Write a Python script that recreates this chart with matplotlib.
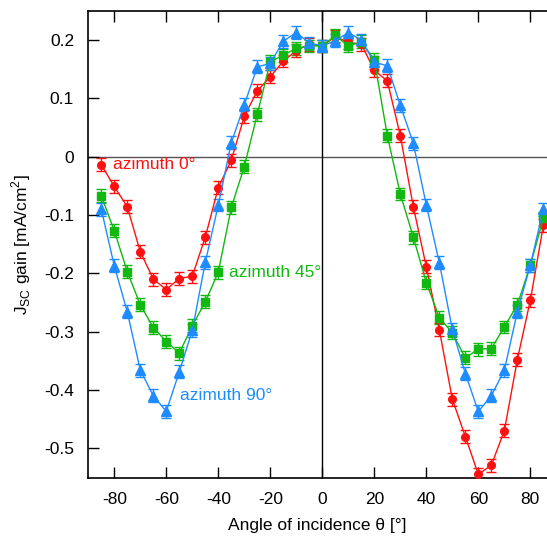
import matplotlib
matplotlib.use("Agg")
import matplotlib.pyplot as plt
import numpy as np

plt.rcParams['font.family'] = ['Liberation Sans', 'DejaVu Sans']

# angles of incidence, same for all three azimuths
angle = [-85, -80, -75, -70, -65, -60, -55, -50, -45, -40, -35, -30, -25, -20, -15, -10, -5, 0,
         5, 10, 15, 20, 25, 30, 35, 40, 45, 50, 55, 60, 65, 70, 75, 80, 85]

# azimuth 0
gain_az0 = [-0.014, -0.051, -0.086, -0.163, -0.210, -0.228, -0.209, -0.205, -0.138, -0.053, -0.006,
            0.069, 0.113, 0.137, 0.164, 0.182, 0.193, 0.190,
            0.206, 0.196, 0.193, 0.148, 0.130, 0.036, -0.086, -0.189, -0.297, -0.416, -0.480,
            -0.545, -0.529, -0.470, -0.348, -0.246, -0.118]
# azimuth 45
gain_az45 = [-0.067, -0.127, -0.197, -0.254, -0.293, -0.317, -0.337, -0.290, -0.249, -0.198, -0.087,
             -0.017, 0.073, 0.163, 0.174, 0.186, 0.190, 0.190,
             0.208, 0.190, 0.197, 0.166, 0.036, -0.064, -0.138, -0.216, -0.276, -0.302, -0.345,
             -0.330, -0.329, -0.292, -0.254, -0.186, -0.106]
# azimuth 90
gain_az90 = [-0.090, -0.187, -0.266, -0.366, -0.410, -0.437, -0.369, -0.298, -0.181, -0.083, 0.024,
             0.089, 0.154, 0.160, 0.198, 0.213, 0.195, 0.190,
             0.199, 0.213, 0.200, 0.162, 0.156, 0.088, 0.023, -0.083, -0.182, -0.296, -0.372,
             -0.437, -0.410, -0.366, -0.266, -0.186, -0.090]
err = 0.011

red = '#ff1010'
green = '#10b810'
blue = '#1e8cff'

fig = plt.figure(figsize=(5.47, 5.39), dpi=100)
ax = fig.add_axes([88/547, 60.7/539, 1 - 88/547, (478.3 - 10.7)/539])

ax.axhline(0, color='#555555', lw=1.0, zorder=1)
ax.axvline(0, color='black', lw=1.0, zorder=1)

for y, c, m, ms in [(gain_az0, red, 'o', 5.5), (gain_az45, green, 's', 5.5), (gain_az90, blue, '^', 7)]:
    ax.errorbar(angle, y, yerr=err, color=c, marker=m, ms=ms, lw=1.0, elinewidth=1.0,
                capsize=3.5, capthick=1.0, zorder=3)

ax.text(-80.5, -0.014, 'azimuth 0°', color=red, fontsize=12.5, va='center', ha='left')
ax.text(-35.9, -0.199, 'azimuth 45°', color=green, fontsize=12.5, va='center', ha='left')
ax.text(-54.7, -0.410, 'azimuth 90°', color=blue, fontsize=12.5, va='center', ha='left')

ax.set_xlim(-90.1, 86.4)
ax.set_ylim(-0.5516, 0.2504)
ax.set_xticks(np.arange(-80, 81, 20))
ax.set_yticks([-0.5, -0.4, -0.3, -0.2, -0.1, 0, 0.1, 0.2])
ax.set_yticklabels(['-0.5', '-0.4', '-0.3', '-0.2', '-0.1', '0', '0.1', '0.2'])
ax.set_xticklabels(['-80', '-60', '-40', '-20', '0', '20', '40', '60', '80'])
ax.tick_params(direction='in', length=8, width=1, top=True, right=False, labelsize=12.5, pad=10)
ax.spines['right'].set_visible(False)
for s in ['left', 'bottom', 'top']:
    ax.spines[s].set_linewidth(1.2)

ax.set_xlabel('Angle of incidence θ [°]', fontsize=12.5, labelpad=8)
ax.set_ylabel('J$_\\mathregular{SC}$ gain [mA/cm$^\\mathregular{2}$]', fontsize=12.5, labelpad=8)

fig.savefig('out.png', dpi=100)
